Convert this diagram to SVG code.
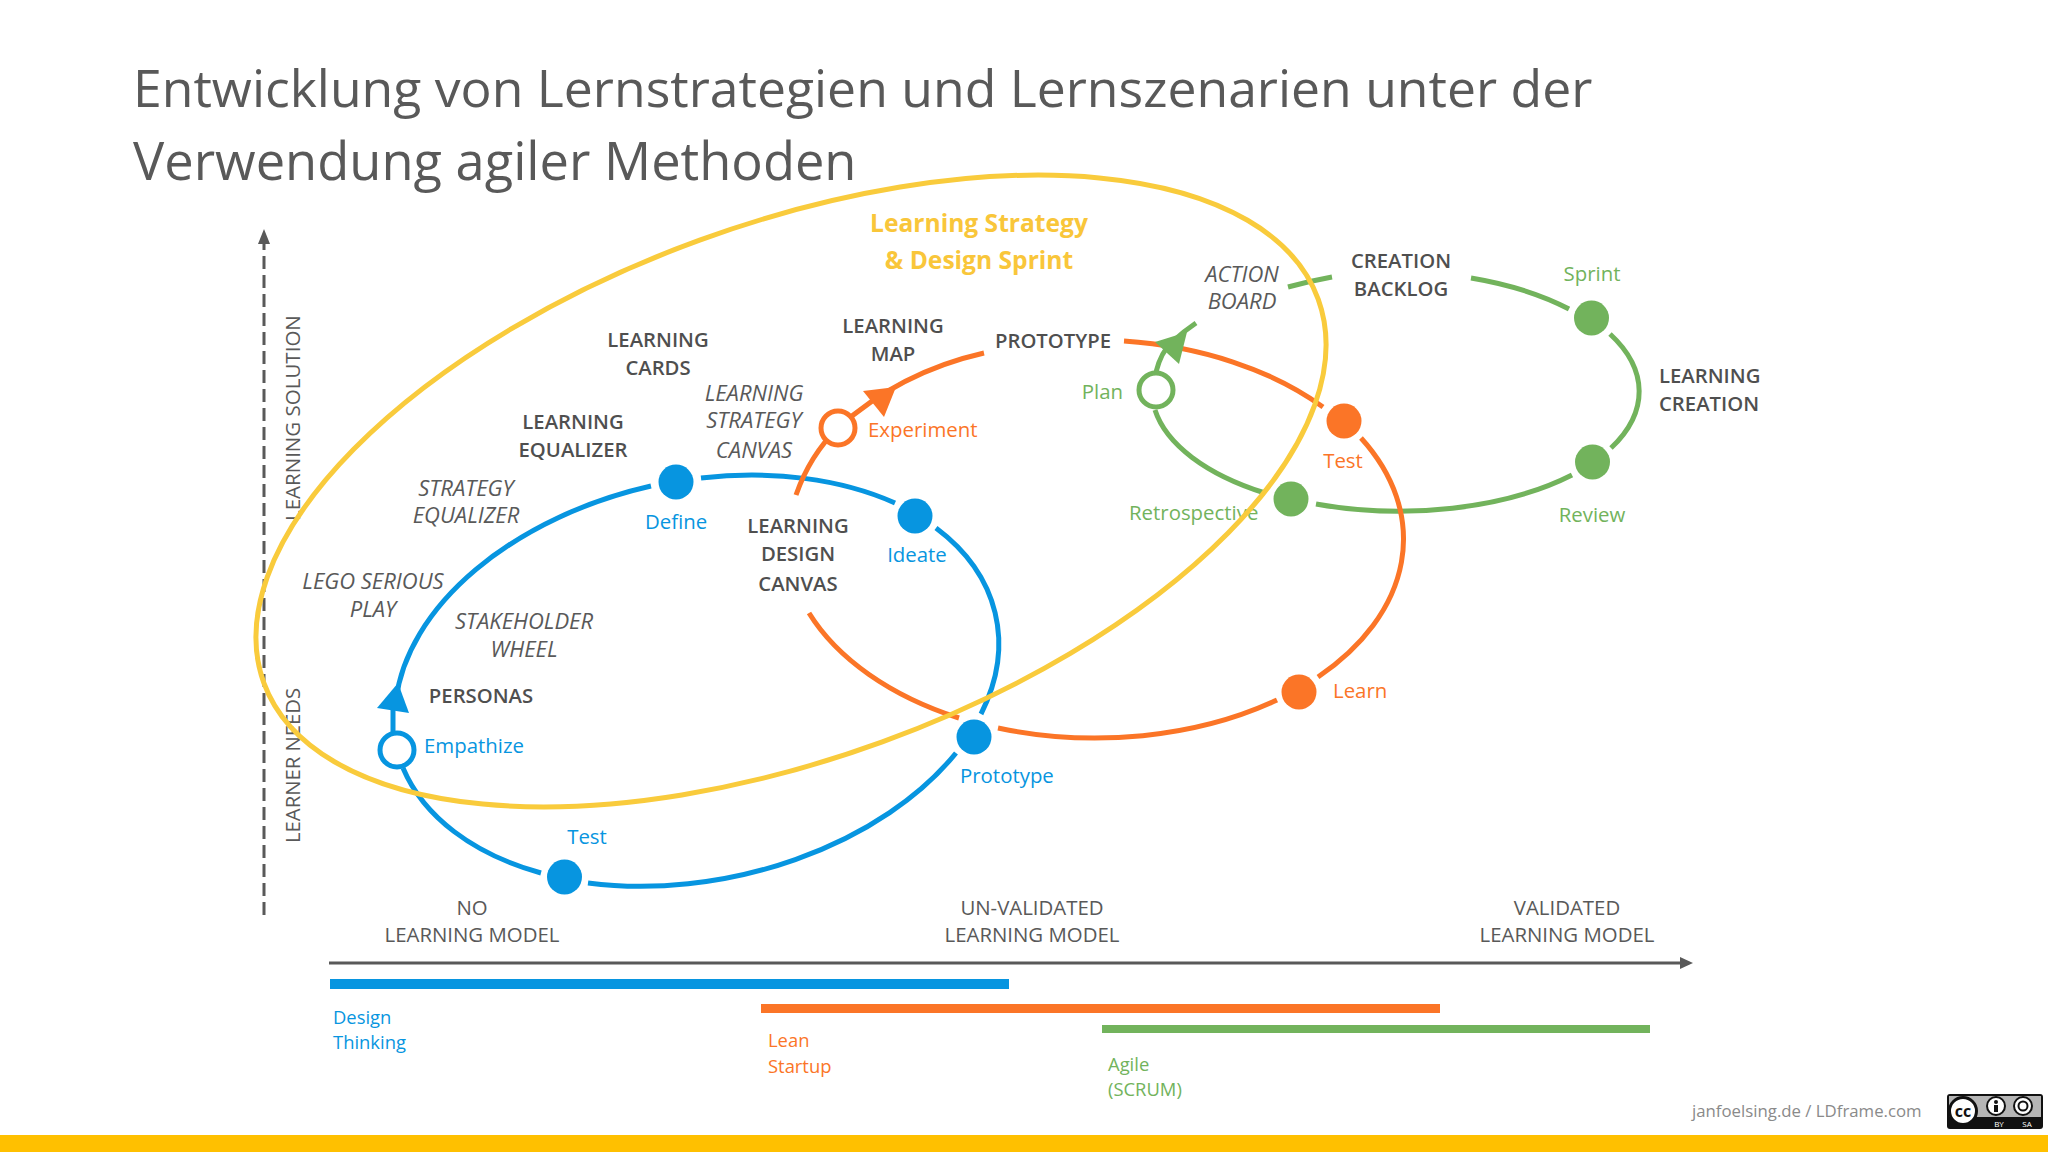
<svg xmlns="http://www.w3.org/2000/svg" width="2048" height="1152" viewBox="0 0 2048 1152">
<style>
text{font-family:"Open Sans","Noto Sans",sans-serif;font-size:20.4px;fill:#595959}
.c{text-anchor:middle}
.e{text-anchor:end}
.b{font-weight:600;fill:#4f4f4f;font-size:20.3px}
.i{font-style:italic;font-size:22px}
.blue{fill:#0795E0}.or{fill:#FB7527}.gr{fill:#72B35C}
.gold{fill:#F9C63A;font-weight:700;font-size:24.6px}
.sm{font-size:18.4px}
path{fill:none;stroke-linecap:butt}
.lb{stroke:#0795E0;stroke-width:5}
.lo{stroke:#FB7527;stroke-width:5}
.lg{stroke:#72B35C;stroke-width:5}
.o{fill:#fff;stroke-width:5}
</style>
<rect width="2048" height="1152" fill="#fff"/>
<rect y="1135" width="2048" height="17" fill="#FFC000"/>
<g id="title"><text x="133" y="107" style="font-size:51.7px">Entwicklung von Lernstrategien und Lernszenarien unter der</text><text x="133" y="180" style="font-size:52.4px">Verwendung agiler Methoden</text></g>
<g id="axes">
<path d="M264 915V240" stroke="#595959" stroke-width="3" stroke-dasharray="13 6"/>
<polygon points="264,229 270,244 258,244" fill="#595959"/>
<path d="M329 963H1684" stroke="#595959" stroke-width="3"/>
<polygon points="1693,963 1680,957 1680,969" fill="#595959"/>
<text transform="translate(300 521) rotate(-90)" style="font-size:20.5px">LEARNING SOLUTION</text>
<text transform="translate(300 843) rotate(-90)" style="font-size:20.3px">LEARNER NEEDS</text>
</g>
<g id="connectors">
<path class="lg" d="M1156 372Q1161 352 1172 342Q1184 331 1196 323"/>
<path class="lg" d="M1155 410A243 121 0 0 0 1265 493"/>
<path class="lg" d="M1316 504A243 121 0 0 0 1572 475"/>
<path class="lg" d="M1611 448A243 121 0 0 0 1610 334"/>
<path class="lg" d="M1569 309A243 121 0 0 0 1471 278"/>
<path class="lg" d="M1332 277Q1310 281 1288 287"/>
<path class="lb" d="M393 732V700"/>
<path class="lb" d="M396 700A308 200 -12 0 1 651 486"/>
<path class="lb" d="M701 478A308 200 -12 0 1 895 503"/>
<path class="lb" d="M936 528A308 200 -12 0 1 981 714"/>
<path class="lb" d="M956 753A308 200 -12 0 1 588 883"/>
<path class="lb" d="M541 873A308 200 -12 0 1 403 768"/>
<path class="lo" d="M796 495Q810 455 838 428Q900 372 984 353"/>
<path class="lo" d="M1124 341A310 200 0 0 1 1323 407"/>
<path class="lo" d="M1361 438A310 200 0 0 1 1318 677"/>
<path class="lo" d="M1277 700A310 200 0 0 1 998 728"/>
<path class="lo" d="M959 718A310 200 0 0 1 809 613"/>
<polygon class="blue" points="398,683 377,708 409,713"/>
<polygon class="or" points="896,387 863,391 884,417"/>
<polygon class="gr" points="1187,332 1155,342 1179,364"/>
</g>
<g id="design-thinking"><rect x="330" y="979" width="679" height="10" class="blue"/><text x="333" y="1024" class="blue sm">Design</text><text x="333" y="1049" class="blue sm">Thinking</text></g>
<g id="lean-startup"><rect x="761" y="1004" width="679" height="9" class="or"/><text x="768" y="1047" class="or sm">Lean</text><text x="768" y="1073" class="or sm">Startup</text></g>
<g id="agile"><rect x="1102" y="1025" width="548" height="8" class="gr"/><text x="1108" y="1071" class="gr sm">Agile</text><text x="1108" y="1096" class="gr sm">(SCRUM)</text></g>
<g id="no-model"><text x="472" y="915" class="c">NO</text><text x="472" y="942" class="c">LEARNING MODEL</text></g>
<g id="unvalidated"><text x="1032" y="915" class="c">UN-VALIDATED</text><text x="1032" y="942" class="c">LEARNING MODEL</text></g>
<g id="validated"><text x="1567" y="915" class="c">VALIDATED</text><text x="1567" y="942" class="c">LEARNING MODEL</text></g>
<g id="empathize"><circle cx="397" cy="750" r="17" class="o" stroke="#0795E0"/><text x="424" y="753" class="blue">Empathize</text></g>
<g id="define"><circle cx="676" cy="482" r="17.5" class="blue"/><text x="676" y="529" class="c blue">Define</text></g>
<g id="ideate"><circle cx="915" cy="516" r="17.5" class="blue"/><text x="917" y="562" class="c blue">Ideate</text></g>
<g id="prototype-blue"><circle cx="974" cy="737" r="17.5" class="blue"/><text x="960" y="783" class="blue">Prototype</text></g>
<g id="test-blue"><circle cx="564.5" cy="877" r="17.5" class="blue"/><text x="587" y="844" class="c blue">Test</text></g>
<g id="experiment"><circle cx="838" cy="428" r="17" class="o" stroke="#FB7527"/><text x="868" y="437" class="or">Experiment</text></g>
<g id="test-orange"><circle cx="1344" cy="421" r="17.5" class="or"/><text x="1343" y="468" class="c or">Test</text></g>
<g id="learn"><circle cx="1299" cy="692" r="17.5" class="or"/><text x="1333" y="698" class="or">Learn</text></g>
<g id="plan"><circle cx="1156" cy="390" r="17" class="o" stroke="#72B35C"/><text x="1123" y="399" class="e gr">Plan</text></g>
<g id="retrospective"><circle cx="1291" cy="499" r="17.5" class="gr"/><text x="1129" y="520" class="gr">Retrospective</text></g>
<g id="review"><circle cx="1592.5" cy="462" r="17.5" class="gr"/><text x="1592" y="522" class="c gr">Review</text></g>
<g id="sprint"><circle cx="1591.5" cy="318" r="17.5" class="gr"/><text x="1592" y="281" class="c gr">Sprint</text></g>
<g id="learning-cards"><text x="658" y="347" class="c b">LEARNING</text><text x="658" y="375" class="c b">CARDS</text></g>
<g id="learning-map"><text x="893" y="333" class="c b">LEARNING</text><text x="893" y="361" class="c b">MAP</text></g>
<g id="prototype"><text x="1053" y="348" class="c b">PROTOTYPE</text></g>
<g id="learning-strategy-canvas"><text x="754" y="401" class="c i">LEARNING</text><text x="754" y="428" class="c i">STRATEGY</text><text x="754" y="458" class="c i">CANVAS</text></g>
<g id="learning-equalizer"><text x="573" y="429" class="c b">LEARNING</text><text x="573" y="457" class="c b">EQUALIZER</text></g>
<g id="strategy-equalizer"><text x="466" y="496" class="c i">STRATEGY</text><text x="466" y="523" class="c i">EQUALIZER</text></g>
<g id="learning-design-canvas"><text x="798" y="533" class="c b">LEARNING</text><text x="798" y="561" class="c b">DESIGN</text><text x="798" y="591" class="c b">CANVAS</text></g>
<g id="lego"><text x="373" y="589" class="c i">LEGO SERIOUS</text><text x="373" y="617" class="c i">PLAY</text></g>
<g id="stakeholder"><text x="524" y="629" class="c i">STAKEHOLDER</text><text x="524" y="657" class="c i">WHEEL</text></g>
<g id="personas"><text x="481" y="703" class="c b">PERSONAS</text></g>
<g id="action-board"><text x="1242" y="282" class="c i">ACTION</text><text x="1242" y="309" class="c i">BOARD</text></g>
<g id="creation-backlog"><text x="1401" y="268" class="c b">CREATION</text><text x="1401" y="296" class="c b">BACKLOG</text></g>
<g id="learning-creation"><text x="1659" y="383" class="b">LEARNING</text><text x="1659" y="411" class="b">CREATION</text></g>
<g id="strategy-sprint"><ellipse cx="791" cy="491" rx="561" ry="267" transform="rotate(-20 791 491)" fill="none" stroke="#F9CB3C" stroke-width="5"/><text x="979" y="232" class="c gold">Learning Strategy</text><text x="979" y="269" class="c gold">&amp; Design Sprint</text></g>
<g id="footer"><text x="1692" y="1117" style="font-size:16.8px;fill:#8a8a8a">janfoelsing.de / LDframe.com</text>
<rect x="1947" y="1094" width="96" height="35" rx="3" fill="#111"/>
<rect x="1949" y="1096" width="92" height="21" fill="#b5b5b5"/>
<circle cx="1963" cy="1111" r="13.5" fill="#fff" stroke="#111" stroke-width="3"/>
<text x="1963" y="1117" class="c" style="font-size:16px;font-weight:700;fill:#111">cc</text>
<circle cx="1996" cy="1106" r="9" fill="#fff" stroke="#111" stroke-width="2"/>
<circle cx="1996" cy="1102" r="2" fill="#111"/><rect x="1994" y="1105" width="4" height="7" fill="#111"/>
<circle cx="2023" cy="1106" r="9" fill="#fff" stroke="#111" stroke-width="2"/>
<circle cx="2023" cy="1106" r="4.5" fill="none" stroke="#111" stroke-width="2"/>
<text x="1999" y="1127" class="c" style="font-size:8px;fill:#fff">BY</text><text x="2027" y="1127" class="c" style="font-size:8px;fill:#fff">SA</text></g>
</svg>
